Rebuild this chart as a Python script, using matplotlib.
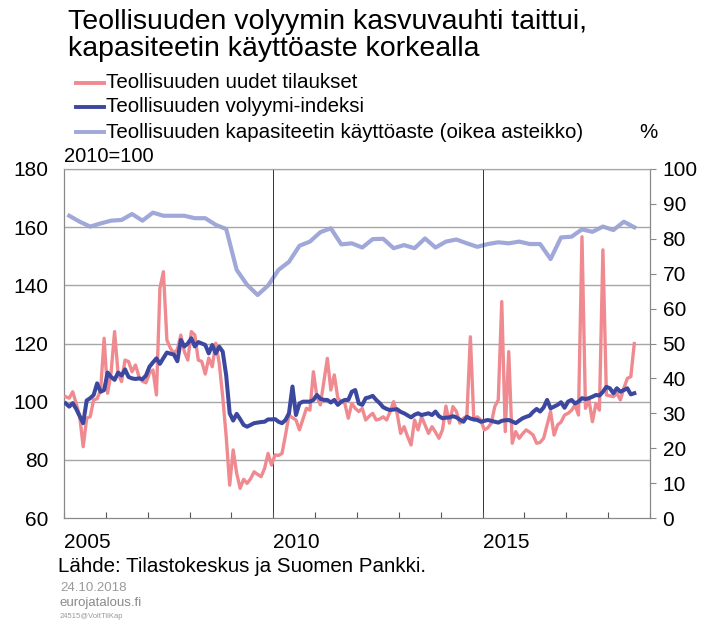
import matplotlib
matplotlib.use("Agg")
import matplotlib.pyplot as plt
import numpy as np

plt.rcParams['font.family'] = ['Liberation Sans', 'DejaVu Sans']

# Teollisuuden uudet tilaukset, monthly 2005/01 - 2018/08 (2010=100)
orders = [
    101.7, 101.2, 103.4, 99.4, 95, 84.5, 94.3, 94.8, 100.6, 101, 104, 121.8,
    102.9, 110, 124.1, 109.8, 106.9, 114.3, 113.8, 110.3, 112.6, 108.6, 107, 106.5,
    109.8, 110.9, 102.3, 139, 144.7, 121.2, 118.4, 116.6, 118, 122.9, 117.2, 114.3,
    124.1, 122.9, 114.3, 113.8, 109.5, 115, 112, 120.1, 113.2, 101.7, 88, 71.3,
    83.4, 75.4, 70.2, 73.3, 71.9, 73.5, 75.9, 75, 74.2, 77, 82.2, 78.2,
    81.7, 81.5, 82.2, 88.5, 95.4, 94.5, 93.7, 90.3, 94, 97.7, 97.1, 110.3,
    101.7, 98.9, 107, 114.9, 104, 109.2, 101.2, 100, 99.4, 94.3, 99.4, 97.7,
    96.6, 97.7, 93.7, 95, 96, 93.7, 94, 94.8, 93.7, 96.6, 100, 96,
    89.1, 91.4, 88, 85.1, 93.7, 90.3, 94.8, 92, 89.1, 91.4, 89.5, 87.4,
    90.3, 98.5, 92.6, 98.3, 96.6, 92.6, 94.3, 95, 122.3, 93.7, 94.8, 93.7,
    90.3, 91, 92.6, 98.3, 100.6, 134.4, 89.7, 117.2, 85.7, 89.7, 87.4, 89,
    90.3, 89.5, 88.5, 85.7, 86, 87.4, 92, 96.6, 88.5, 92, 93, 95.4,
    96, 97, 98.9, 95.4, 156.7, 97.7, 100.6, 93.1, 99.4, 97.1, 152.2, 102.3,
    102, 101.7, 102.9, 100.6, 104.6, 108, 108.6, 120,
]

# Teollisuuden volyymi-indeksi, monthly 2005/01 - 2018/08 (2010=100)
volume = [
    99.4, 98.3, 99.5, 97.5, 95, 92.6, 100.4, 101.2, 102.3, 106.3, 103.4, 104,
    110, 108.5, 107.5, 110, 109, 111.1, 108.5, 108, 107.8, 108, 107.7, 109,
    112, 113.5, 114.9, 113, 115, 116.9, 116.5, 116.2, 113.9, 121.2, 119, 120,
    121.8, 119, 120.5, 120, 119.5, 116.6, 119.5, 116.6, 118.9, 117.2, 109, 96,
    93.5, 95.8, 94, 92, 91.4, 92, 92.6, 92.8, 93, 93.1, 93.9, 93.9,
    94, 93.1, 92.6, 93.7, 96, 105.2, 95.4, 99.4, 100, 100, 100, 100.6,
    102.3, 101, 100.6, 100.6, 99.7, 100.6, 98.9, 100, 100.6, 100.6, 103.4, 104,
    99.4, 98.9, 101.2, 101.5, 102, 100.6, 99.5, 98.1, 97.5, 97.1, 97.3, 97.4,
    96.5, 96, 95.3, 94.6, 95.5, 96, 95.4, 95.7, 96, 95.4, 96.6, 95,
    94.3, 94.5, 94.6, 95, 94.6, 93.8, 93.1, 94.8, 94.2, 93.9, 93.7, 93.1,
    93.4, 93.7, 93.4, 93.1, 92.8, 93.4, 93.6, 93.7, 93.2, 92.6, 93.5, 94.3,
    94.8, 95.2, 96.5, 97.5, 96.6, 98, 100.6, 97.7, 98.3, 98.9, 99.8, 97.9,
    100, 100.6, 99.4, 100, 101.2, 100.9, 101.2, 101.7, 102.3, 102.1, 103.4, 105.1,
    104.6, 102.9, 104.6, 103.4, 104, 104.6, 102.5, 102.9,
]

# Teollisuuden kapasiteetin käyttöaste, quarterly 2005Q1 - 2018Q3 (%)
capacity = [
    86.6, 84.9, 83.5, 84.4,
    85.2, 85.4, 87.1, 85.2,
    87.5, 86.6, 86.6, 86.6,
    85.9, 85.9, 84.0, 82.8,
    71.1, 66.8, 63.9, 66.6,
    71.1, 73.4, 78.0, 79.2,
    81.9, 83.0, 78.4, 78.7,
    77.5, 79.9, 80.0, 77.3,
    78.2, 77.3, 80.1, 77.5,
    79.2, 79.8, 78.7, 77.7,
    78.5, 79.0, 78.7, 79.2,
    78.5, 78.5, 74.2, 80.4,
    80.6, 82.7, 82.0, 83.5,
    82.5, 84.9, 83.3,
]

year_labels = ['2005', '2010', '2015']
left_ticks = [60, 80, 100, 120, 140, 160, 180]
right_ticks = list(range(0, 101, 10))

c_orders = '#EF8A90'
c_volume = '#3C48A0'
c_capacity = '#A0A8DA'

x_month = 2005 + (np.arange(len(orders)) + 0.5) / 12
x_quarter = 2005 + (np.arange(len(capacity)) + 0.5) / 4

fig = plt.figure(figsize=(7.04, 6.2), dpi=100)
ax = fig.add_axes([64/704, 1 - 518/620, 586/704, 349/620])
ax2 = ax.twinx()

ax.set_xlim(2005, 2019)
ax.set_ylim(60, 180)
ax2.set_ylim(0, 100)

# grid
for v in left_ticks[1:]:
    ax.axhline(v, color='#a6a6a6', lw=1, zorder=0)
for yr in (2010, 2015):
    ax.axvline(yr, color='#333333', lw=0.7, zorder=0)

ax.plot(x_month, orders, color=c_orders, lw=2.4, zorder=3, solid_joinstyle='round')
ax.plot(x_month, volume, color=c_volume, lw=2.9, zorder=4, solid_joinstyle='round')
ax2.plot(x_quarter, capacity, color=c_capacity, lw=3.0, zorder=2, solid_joinstyle='round')
ax.set_zorder(ax2.get_zorder() + 1)
ax.patch.set_visible(False)

ax.set_yticks(left_ticks)
ax.set_yticklabels([str(v) for v in left_ticks], fontsize=15)
ax.tick_params(axis='y', length=0, pad=11)
ax2.set_yticks(right_ticks)
ax2.set_yticklabels([str(v) for v in right_ticks], fontsize=15)
ax2.tick_params(axis='y', length=4, direction='out', color='#888888', pad=5)

ax.set_xticks(np.arange(2005, 2020))
ax.set_xticklabels([str(y) if str(y) in year_labels else '' for y in range(2005, 2020)],
                   fontsize=15, ha='left')
ax.tick_params(axis='x', direction='in', length=4, color='#555555', pad=11)
ax2.tick_params(axis='x', length=0)

for a in (ax, ax2):
    a.spines['top'].set_color('#a6a6a6')
    a.spines['left'].set_color('#888888')
    a.spines['right'].set_color('#888888')
    a.spines['bottom'].set_color('#888888')

# titles and legend
fig.text(68/704, 1 - 22/620, 'Teollisuuden volyymin kasvuvauhti taittui,',
         fontsize=20.5, va='center', ha='left')
fig.text(68/704, 1 - 49/620, 'kapasiteetin käyttöaste korkealla',
         fontsize=20.5, va='center', ha='left')

legend_items = [
    ('Teollisuuden uudet tilaukset', c_orders, 83),
    ('Teollisuuden volyymi-indeksi', c_volume, 107),
    ('Teollisuuden kapasiteetin käyttöaste (oikea asteikko)', c_capacity, 132),
]
for label, col, ypx in legend_items:
    yy = 1 - ypx/620
    fig.add_artist(plt.Line2D([76/704, 104/704], [yy, yy], color=col, lw=2.8,
                              transform=fig.transFigure))
    fig.text(106/704, yy, label, fontsize=14.8, va='center', ha='left')

fig.text(648/704, 1 - 132/620, '%', fontsize=14.8, va='center', ha='center')
fig.text(64/704, 1 - 157/620, '2010=100', fontsize=14.5, va='center', ha='left')

fig.text(58/704, 1 - 566/620, 'Lähde: Tilastokeskus ja Suomen Pankki.',
         fontsize=14.8, va='center', ha='left')
fig.text(60/704, 1 - 588/620, '24.10.2018', fontsize=9.5, color='#9a9a9a',
         va='center', ha='left')
fig.text(60/704, 1 - 603/620, 'eurojatalous.fi', fontsize=9.5, color='#8a8a8a',
         va='center', ha='left')
fig.text(60/704, 1 - 616/620, '24515@VoltTilKap', fontsize=5.5, color='#9a9a9a',
         va='center', ha='left')

fig.savefig('out.png', dpi=100)
